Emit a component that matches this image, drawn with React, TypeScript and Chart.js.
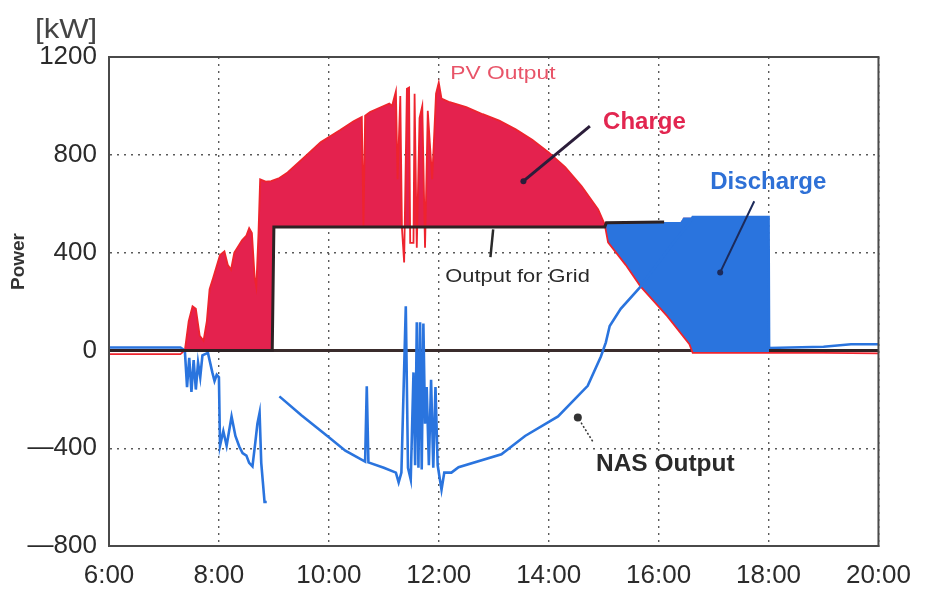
import React, { useEffect, useRef } from 'react';
import { Chart, registerables } from 'chart.js';

Chart.register(...registerables);

// ---- data (hours of day, kW) ----
const pvTimes = [6.0, 7.3, 7.38, 7.45, 7.52, 7.58, 7.65, 7.72, 7.78, 7.83, 7.9, 7.98, 8.02, 8.1, 8.16, 8.22, 8.28, 8.35, 8.42, 8.5, 8.55, 8.6, 8.65, 8.68, 8.72, 8.75, 8.85, 8.95, 9.1, 9.25, 9.6, 9.85, 10.2, 10.45, 10.6, 10.63, 10.66, 10.75, 11.1, 11.15, 11.22, 11.25, 11.3, 11.33, 11.37, 11.42, 11.46, 11.48, 11.54, 11.56, 11.6, 11.65, 11.7, 11.75, 11.8, 11.88, 11.95, 12.0, 12.05, 12.2, 12.5, 12.8, 13.1, 13.4, 13.7, 14.0, 14.3, 14.6, 14.9, 15.02, 15.08, 15.4, 15.67, 16.16, 16.56, 16.62, 18.0, 19.0, 20.0];
const pvValues = [-15, -15, 0, 120, 180, 170, 60, 40, 120, 250, 300, 360, 390, 405, 350, 330, 400, 425, 450, 470, 500, 480, 300, 260, 480, 700, 690, 692, 705, 728, 800, 851, 900, 937, 955, 510, 960, 975, 1010, 1000, 1060, 700, 1040, 500, 360, 1070, 1075, 440, 440, 1050, 420, 950, 1000, 420, 980, 700, 1050, 1095, 1030, 1015, 995, 966, 940, 904, 862, 810, 750, 671, 577, 515, 442, 350, 262, 139, 25, -10, -10, -10, -12];

const gridTimes = [6.0, 8.97, 9.0, 15.02, 15.05, 16.1, 16.4, 16.45, 18.0, 18.01, 20.0];
const gridValues = [0, 0, 505, 505, 522, 525, 525, 544, 544, 0, 0];

const nasTimes = [6.0, 7.3, 7.38, 7.42, 7.46, 7.5, 7.54, 7.58, 7.62, 7.66, 7.7, 7.8, 7.88, 7.92, 7.96, 8.0, 8.02, 8.08, 8.14, 8.23, 8.3, 8.37, 8.43, 8.5, 8.55, 8.61, 8.66, 8.7, 8.74, 8.77, 8.8, 8.83, 8.87, 8.9, 9.1, 9.5, 10.0, 10.3, 10.66, 10.69, 10.72, 11.0, 11.22, 11.27, 11.32, 11.4, 11.44, 11.49, 11.54, 11.57, 11.6, 11.63, 11.66, 11.69, 11.72, 11.75, 11.78, 11.82, 11.86, 11.9, 11.94, 11.98, 12.05, 12.1, 12.23, 12.36, 13.14, 13.57, 14.17, 14.71, 14.95, 15.04, 15.11, 15.31, 15.66, 16.0, 16.3, 16.56, 16.62, 18.0, 18.01, 19.0, 19.5, 20.0];
const nasValues: (number | null)[] = [12, 12, 0, -150, -30, -170, -40, -160, -50, -110, -20, -10, -90, -125, -100, -110, -390, -330, -390, -270, -350, -393, -420, -430, -460, -474, -380, -300, -255, -460, -540, -620, -620, null, -188, -265, -355, -410, -455, -147, -458, -480, -500, -540, -500, 180, -480, -528, -90, -470, 115, -480, 115, -487, 110, -300, -150, -470, -120, -480, -150, -470, -570, -500, -500, -478, -425, -350, -270, -145, -25, 33, 100, 170, 258, 360, 450, 520, 545, 545, 10, 15, 25, 25];

const xTickValues = [6, 8, 10, 12, 14, 16, 18, 20];
const yTickValues = [-800, -400, 0, 400, 800, 1200];

// ---- styles ----
const RED_FILL = 'rgb(228,34,78)';
const RED_LINE = 'rgb(238,36,46)';
const BLUE = 'rgb(42,116,222)';
const FONT = '"Liberation Sans", Arial, sans-serif';

type Note = { text: string; x: number; y: number; font: string; color: string; sx: number };
const notes: Note[] = [
  { text: 'PV Output', x: 12.21, y: 1109, font: `19px ${FONT}`, color: 'rgb(232,84,104)', sx: 1.2 },
  { text: 'Charge', x: 14.99, y: 904, font: `bold 24px ${FONT}`, color: 'rgb(226,38,80)', sx: 1.0 },
  { text: 'Discharge', x: 16.94, y: 659, font: `bold 24px ${FONT}`, color: 'rgb(46,112,214)', sx: 1.0 },
  { text: 'Output for Grid', x: 12.12, y: 278, font: `19px ${FONT}`, color: '#2a2a2a', sx: 1.15 },
  { text: 'NAS Output', x: 14.86, y: -495, font: `bold 24px ${FONT}`, color: '#2a2a2a', sx: 1.02 },
];

type Arrow = { x1: number; y1: number; x2: number; y2: number; width: number; color: string; dash: number[]; dot: number };
const arrows: Arrow[] = [
  { x1: 14.75, y1: 917, x2: 13.54, y2: 692, width: 3, color: '#2b1d3a', dash: [], dot: 3 },
  { x1: 17.74, y1: 610, x2: 17.12, y2: 319, width: 2, color: '#1c2a5a', dash: [], dot: 3 },
  { x1: 12.99, y1: 495, x2: 12.94, y2: 381, width: 2.5, color: '#2a2a2a', dash: [], dot: 0 },
  { x1: 14.80, y1: -372, x2: 14.53, y2: -274, width: 1.5, color: '#333', dash: [2, 2], dot: 4 },
];

const decorPlugin = {
  id: 'decor',
  beforeDatasetsDraw(chart: any) {
    const { ctx, chartArea: a, scales } = chart;
    const y0 = scales.y.getPixelForValue(0);
    ctx.save();
    ctx.strokeStyle = '#3a2c2c';
    ctx.lineWidth = 3;
    ctx.beginPath();
    ctx.moveTo(a.left, y0);
    ctx.lineTo(a.right, y0);
    ctx.stroke();
    ctx.restore();
  },
  afterDatasetsDraw(chart: any) {
    const { ctx, chartArea: a, scales } = chart;
    const xs = scales.x;
    const ys = scales.y;
    ctx.save();
    ctx.strokeStyle = '#4a4a4a';
    ctx.lineWidth = 2;
    ctx.strokeRect(a.left, a.top, a.right - a.left, a.bottom - a.top);

    arrows.forEach((ar) => {
      const px1 = xs.getPixelForValue(ar.x1);
      const py1 = ys.getPixelForValue(ar.y1);
      const px2 = xs.getPixelForValue(ar.x2);
      const py2 = ys.getPixelForValue(ar.y2);
      ctx.strokeStyle = ar.color;
      ctx.lineWidth = ar.width;
      ctx.setLineDash(ar.dash);
      ctx.beginPath();
      ctx.moveTo(px1, py1);
      ctx.lineTo(px2, py2);
      ctx.stroke();
      ctx.setLineDash([]);
      if (ar.dot > 0) {
        ctx.fillStyle = ar.color;
        ctx.beginPath();
        ctx.arc(px2, py2, ar.dot, 0, Math.PI * 2);
        ctx.fill();
      }
    });

    notes.forEach((n) => {
      const px = xs.getPixelForValue(n.x);
      const py = ys.getPixelForValue(n.y);
      ctx.save();
      ctx.translate(px, py);
      ctx.scale(n.sx, 1);
      ctx.font = n.font;
      ctx.fillStyle = n.color;
      ctx.textAlign = 'left';
      ctx.textBaseline = 'alphabetic';
      ctx.fillText(n.text, 0, 0);
      ctx.restore();
    });
    ctx.restore();
  },
  afterDraw(chart: any) {
    const { ctx, chartArea: a } = chart;
    ctx.save();
    ctx.translate(35, 38);
    ctx.scale(1.15, 1);
    ctx.font = `27px ${FONT}`;
    ctx.fillStyle = '#444';
    ctx.textAlign = 'left';
    ctx.textBaseline = 'alphabetic';
    ctx.fillText('[kW]', 0, 0);
    ctx.restore();
    ctx.save();
    ctx.translate(19, (a.top + a.bottom) / 2 - 40);
    ctx.rotate(-Math.PI / 2);
    ctx.font = `bold 19px ${FONT}`;
    ctx.fillStyle = '#333';
    ctx.textAlign = 'center';
    ctx.textBaseline = 'middle';
    ctx.fillText('Power', 0, 0);
    ctx.restore();
  },
};

export default function App() {
  const ref = useRef<HTMLCanvasElement>(null);
  useEffect(() => {
    const canvas = ref.current;
    if (!canvas) return;
    const toPts = (xs: number[], ys: (number | null)[]) => xs.map((x, i) => ({ x, y: ys[i] }));
    const pv = toPts(pvTimes, pvValues);
    const grid = toPts(gridTimes, gridValues);
    const nas = toPts(nasTimes, nasValues);
    const dischargeEdge = grid.filter((p) => p.x >= 15 && p.x <= 18.01);
    const clear = 'rgba(0,0,0,0)';
    const tickFont = { family: FONT, size: 26 };

    const chart = new Chart(canvas, {
      type: 'line',
      data: {
        datasets: [
          { label: 'Charge', data: pv as any, fill: { target: 4, above: RED_FILL, below: clear } as any, borderColor: clear, borderWidth: 0.01, pointRadius: 0, order: 6 },
          { label: 'Discharge', data: dischargeEdge as any, fill: { target: 0, above: BLUE, below: clear } as any, borderColor: clear, borderWidth: 0.01, pointRadius: 0, order: 5 },
          { label: 'PV Output', data: pv as any, borderColor: RED_LINE, borderWidth: 1.8, pointRadius: 0, fill: false, order: 3 },
          { label: 'NAS Output', data: nas as any, borderColor: BLUE, borderWidth: 2.6, pointRadius: 0, fill: false, spanGaps: false, order: 2 },
          {
            label: 'Output for Grid', data: grid as any, borderColor: '#2e2224', borderWidth: 3, pointRadius: 0, fill: false, order: 1,
            segment: {
              borderColor: (c: any) => (c.p0.parsed.x >= 16.1 && c.p1.parsed.x <= 18.01 ? clear : undefined),
            },
          },
        ],
      },
      options: {
        animation: false,
        responsive: false,
        devicePixelRatio: 1,
        layout: { padding: { top: 57, right: 45, left: 0, bottom: 0 } },
        elements: { line: { tension: 0 } },
        plugins: { legend: { display: false }, tooltip: { enabled: false } },
        scales: {
          x: {
            type: 'linear',
            min: 6,
            max: 20,
            afterFit: (s: any) => { s.height = 48; },
            afterBuildTicks: (s: any) => { s.ticks = xTickValues.map((v) => ({ value: v })); },
            ticks: { callback: (v: any) => `${v}:00`, font: tickFont, color: '#2b2b2b', padding: 14, maxRotation: 0, autoSkip: false },
            grid: { color: '#5a5a5a', lineWidth: 1.4, drawTicks: false },
            border: { display: true, color: '#4a4a4a', width: 2, dash: [2, 5] },
          },
          y: {
            type: 'linear',
            min: -800,
            max: 1200,
            afterFit: (s: any) => { s.width = 109; },
            afterBuildTicks: (s: any) => { s.ticks = yTickValues.map((v) => ({ value: v })); },
            ticks: { callback: (v: any) => (v < 0 ? `—${Math.abs(v)}` : `${v}`), font: tickFont, color: '#2b2b2b', padding: 12 },
            grid: { color: '#5a5a5a', lineWidth: 1.4, drawTicks: false },
            border: { display: true, color: '#4a4a4a', width: 2, dash: [2, 5] },
          },
        },
      },
      plugins: [decorPlugin],
    } as any);
    return () => chart.destroy();
  }, []);

  return (
    <div style={{ position: 'fixed', left: 0, top: 0, width: 925, height: 594, background: '#fff' }}>
      <canvas ref={ref} width={925} height={594} style={{ display: 'block', width: 925, height: 594 }} />
    </div>
  );
}
